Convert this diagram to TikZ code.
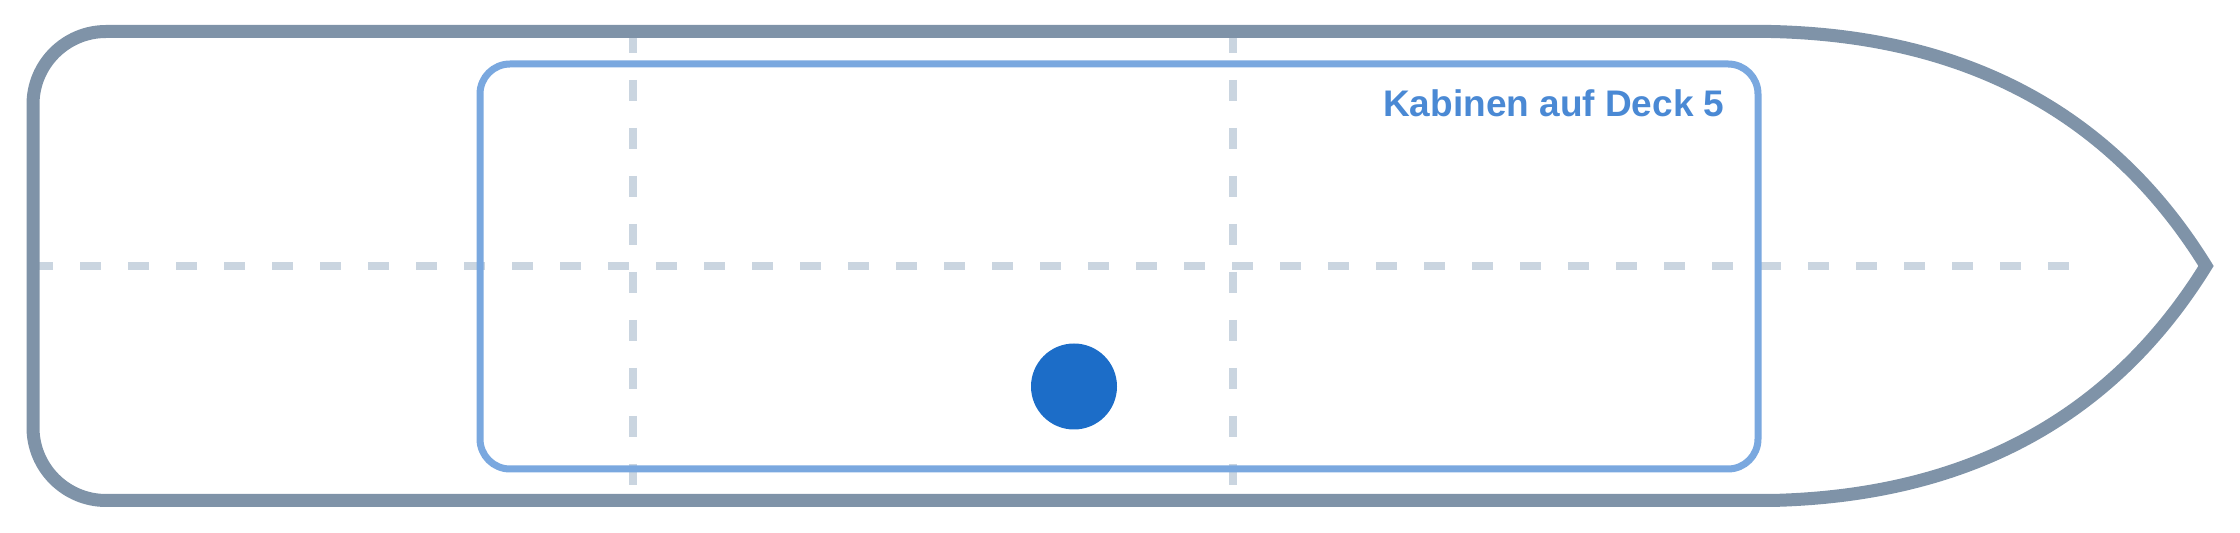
\documentclass[tikz,border=0pt]{standalone}
\usepackage{fontspec}
\setmainfont{Liberation Sans}
\begin{document}
\begin{tikzpicture}[x=0.5pt,y=-0.5pt,
  hull/.style={draw=hullc,line width=6.5pt,line join=miter},
  deckbox/.style={draw=boxc,line width=3.5pt,rounded corners=15pt},
  guide/.style={draw=guidec,line width=4pt,dash pattern=on 10.5pt off 13.5pt},
  marker/.style={circle,fill=dotc,draw=none,minimum size=43pt,inner sep=0pt},
  decklabel/.style={text=labelc,font=\bfseries\fontsize{18.5pt}{22pt}\selectfont,inner sep=0pt,anchor=base east}]
\definecolor{hullc}{HTML}{7F93A8}
\definecolor{boxc}{HTML}{7AA8DF}
\definecolor{guidec}{HTML}{CAD5E0}
\definecolor{dotc}{HTML}{1C6DC8}
\definecolor{labelc}{HTML}{4A89D4}
\useasboundingbox (0,0) rectangle (2240,533);
% guides
\coordinate (hl) at (32,266);
\coordinate (hr) at (2070,266);
\coordinate (v1t) at (633,32);
\coordinate (v1b) at (633,500);
\coordinate (v2t) at (1233,32);
\coordinate (v2b) at (1233,500);
\draw[guide] (hl) -- (hr);
\draw[guide] (v1t) -- (v1b);
\draw[guide] (v2t) -- (v2b);
% hull
\draw[hull] (1771,31.5) .. controls (1967,35.8) and (2112,114) .. (2206,266)
  .. controls (2112,418) and (1967,496.2) .. (1771,500.5) -- (106,500.5)
  .. controls (65.7,500.5) and (33,467.8) .. (33,427.5) -- (33,104.5)
  .. controls (33,64.2) and (65.7,31.5) .. (106,31.5) -- cycle;
% deck box
\draw[deckbox] (480,64) rectangle (1758,469);
\node[decklabel] (lbl) at (1725,117) {Kabinen auf Deck 5};
\node[marker] (dot) at (1074,386.5) {};
\end{tikzpicture}
\end{document}
